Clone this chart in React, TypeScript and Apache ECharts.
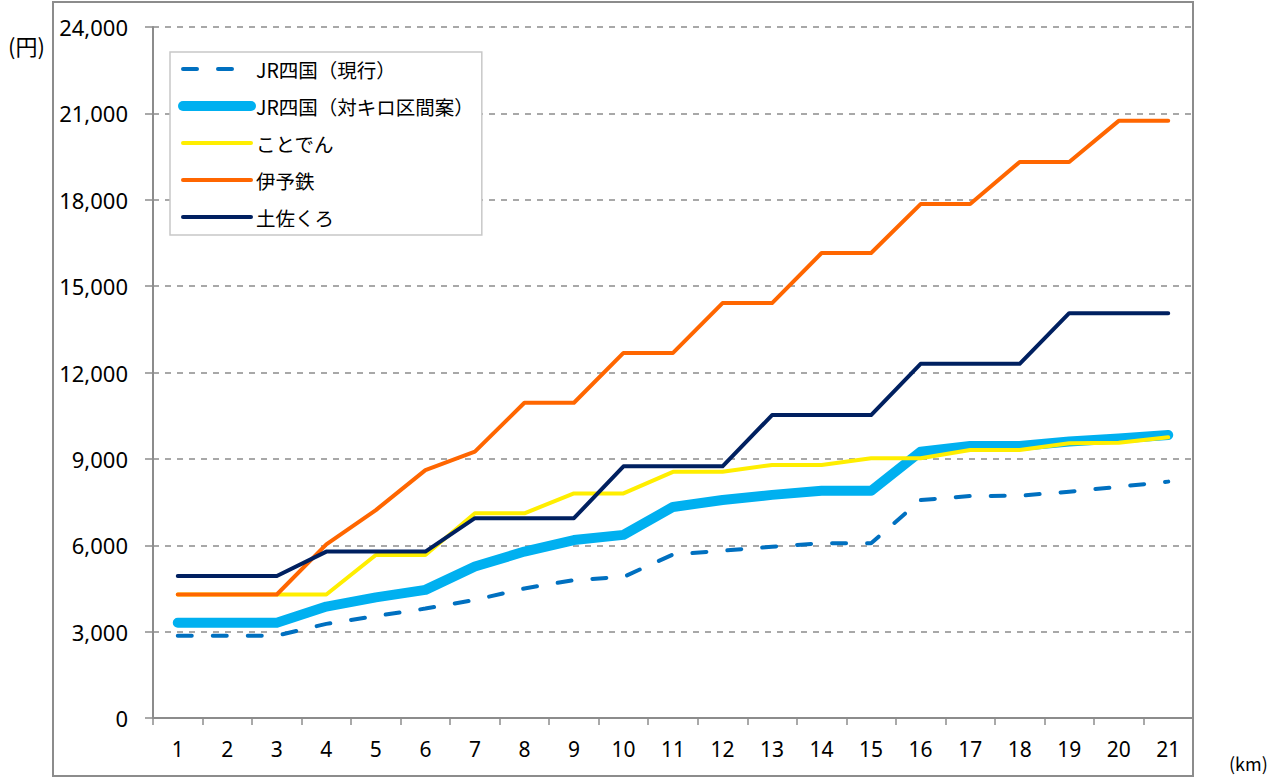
import React, { useEffect, useRef } from "react";
import * as echarts from "echarts";

const categories = ["1","2","3","4","5","6","7","8","9","10","11","12","13","14","15","16","17","18","19","20","21"];
const jrCurrent = [2860,2860,2860,3270,3540,3800,4100,4500,4790,4900,5680,5810,5950,6070,6070,7570,7710,7720,7860,8030,8210];
const jrProposed = [3310,3310,3310,3870,4190,4450,5260,5780,6180,6360,7330,7570,7750,7890,7890,9250,9450,9450,9600,9710,9830];
const kotoden = [4290,4290,4290,4290,5660,5660,7110,7110,7800,7800,8550,8550,8790,8790,9020,9020,9310,9310,9540,9560,9750];
const iyotetsu = [4290,4290,4290,6030,7220,8610,9250,10950,10950,12680,12680,14410,14410,16150,16150,17850,17850,19310,19310,20740,20740];
const tosakuro = [4930,4930,4930,5780,5780,5780,6940,6940,6940,8740,8740,8740,10520,10520,10520,12300,12300,12300,14060,14060,14060];
const seriesNames = ["JR四国（現行）", "JR四国（対キロ区間案）", "ことでん", "伊予鉄", "土佐くろ"];
const seriesColors = ["#0070C0", "#00B0F0", "#FFEE00", "#FF6600", "#002060"];
const seriesWidths = [4, 10, 4, 4, 4];

const GRAY = "#8c8c8c";
const NUM_FONT = "'Noto Sans', sans-serif";
const JP_FONT = "'Noto Sans CJK JP', sans-serif";

export default function App() {
  const ref = useRef<HTMLDivElement>(null);
  useEffect(() => {
    if (!ref.current) return;
    const chart = echarts.init(ref.current, null, { renderer: "svg" });
    const dashes: any[] = [[14, 21], "solid", "solid", "solid", "solid"];
    const series = [jrCurrent, jrProposed, kotoden, iyotetsu, tosakuro].map((data, i) => ({
      name: seriesNames[i],
      type: "line",
      data,
      symbol: "none",
      smooth: false,
      lineStyle: { color: seriesColors[i], width: seriesWidths[i], type: dashes[i], cap: "round", join: "round" },
      itemStyle: { color: seriesColors[i] },
    }));
    chart.setOption({
      animation: false,
      backgroundColor: "#fff",
      grid: { left: 153, right: 86, top: 27, bottom: 60, containLabel: false },
      legend: {
        orient: "vertical",
        left: 170,
        top: 52,
        padding: [7, 8, 8, 8],
        itemWidth: 68,
        itemHeight: 20,
        itemGap: 17,
        backgroundColor: "#fff",
        borderColor: "#c8c8c8",
        borderWidth: 1.5,
        borderRadius: 0,
        itemStyle: { opacity: 0 },
        textStyle: { fontFamily: JP_FONT, fontSize: 19.5, color: "#000", lineHeight: 20 },
        data: seriesNames.map((name, i) => ({
          name,
          lineStyle: { color: seriesColors[i], width: seriesWidths[i], type: dashes[i], cap: "round" },
          itemStyle: { opacity: 0 },
        })),
      },
      xAxis: {
        type: "category",
        data: categories,
        boundaryGap: true,
        axisLine: { lineStyle: { color: GRAY, width: 2 } },
        axisTick: { show: true, length: 7, lineStyle: { color: GRAY, width: 1.5 } },
        axisLabel: { fontFamily: NUM_FONT, fontSize: 21, color: "#000", margin: 20 },
        splitLine: { show: false },
      },
      yAxis: {
        type: "value",
        min: 0,
        max: 24000,
        interval: 3000,
        axisLine: { show: true, lineStyle: { color: GRAY, width: 2 } },
        axisTick: { show: true, length: 8, lineStyle: { color: GRAY, width: 1.5 } },
        axisLabel: {
          fontFamily: NUM_FONT,
          fontSize: 22,
          color: "#000",
          margin: 25,
          formatter: (v: number) => v.toLocaleString("en-US"),
        },
        splitLine: { show: true, lineStyle: { color: GRAY, width: 1.5, type: [6, 6] } },
      },
      graphic: [
        {
          type: "rect",
          shape: { x: 53, y: 2, width: 1140, height: 774 },
          style: { fill: "none", stroke: GRAY, lineWidth: 2 },
          silent: true,
          z: -1,
        },
        {
          type: "rect",
          shape: { x: 1196, y: 752, width: 83, height: 26 },
          style: { fill: "#fff" },
          silent: true,
          z: 10,
        },
        {
          type: "text",
          left: 8,
          top: 34,
          style: { text: "(円)", font: `22px ${JP_FONT}`, fill: "#000" },
          z: 11,
        },
        {
          type: "text",
          left: 1229,
          top: 754,
          style: { text: "(km)", font: `18px ${JP_FONT}`, fill: "#000" },
          z: 11,
        },
      ],
      series,
    });
    return () => chart.dispose();
  }, []);
  return <div ref={ref} style={{ position: "absolute", left: 0, top: 0, width: 1279, height: 778 }} />;
}
